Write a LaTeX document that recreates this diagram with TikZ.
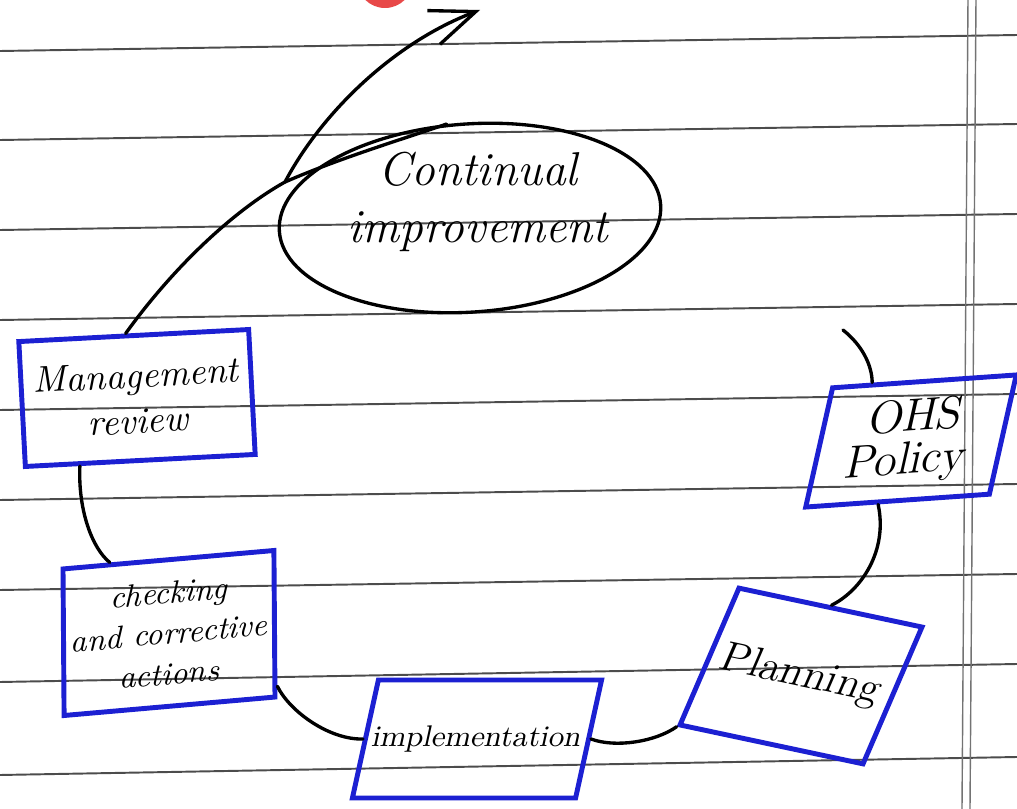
\documentclass[tikz,border=0pt]{standalone}
\usepackage{fontspec}
\usetikzlibrary{shapes.geometric,arrows.meta,calc}
\definecolor{penblue}{RGB}{28,32,210}
\definecolor{dotred}{RGB}{232,72,72}

\begin{document}
\begin{tikzpicture}[
    x=0.01cm, y=-0.01cm,
    ruled/.style={black!70, line width=0.55pt},
    margin/.style={black!55, line width=0.4pt},
    box/.style={draw=penblue, line width=1.4pt, align=center, inner sep=2pt},
    link/.style={line width=0.95pt, line cap=round}
]

% ruled paper
\useasboundingbox (0,0) rectangle (1017,809);
\clip (0,0) rectangle (1017,809);
\fill[white] (0,0) rectangle (1017,809);
\foreach \l/\r in {51/35, 140/124, 230/214, 320/304, 410/394, 500/484, 590/574, 682/664, 775/757}
  \draw[ruled] (0,\l) -- (1017,\r);
\draw[margin] (968,0) -- (962,809);
\draw[margin] (976,0) -- (970,809);
\fill[dotred] (385,-20) circle (28);

% steps of the cycle
\node[box, minimum width=2.3cm, minimum height=1.25cm, rotate=3,
      font=\fontsize{10.5}{13}\selectfont\itshape] (mr) at (137,398) {Management\\review};
\node[box, minimum width=1.84cm, minimum height=1.17cm, rotate=4, xslant=0.3,
      font=\fontsize{13}{12}\selectfont] (ohs) at (911,441) {OHS\\Policy};
\node[box, minimum width=1.87cm, minimum height=1.46cm, rotate=-12, xslant=0.2,
      font=\fontsize{12}{14}\selectfont] (pl) at (801,676) {Planning};
\node[box, minimum width=2.1cm, minimum height=1.18cm, xslant=0.22,
      font=\fontsize{8.5}{10}\selectfont] (im) at (477,739) {implementation};
\node[box, minimum width=2.08cm, minimum height=1.46cm, rotate=5, xslant=0.08,
      font=\fontsize{9}{11.5}\selectfont\itshape] (ck) at (169,633) {checking\\and corrective\\actions};

% centre
\node[draw, ellipse, line width=0.95pt, minimum width=3.82cm, minimum height=1.88cm, rotate=4] (ci) at (470,218) {};
\node[font=\fontsize{13.5}{16}\selectfont\itshape, align=center] (citext) at (478,202) {Continual\\improvement};

% connectors
\coordinate (loopstart) at (843,330);
\coordinate (split) at (285,182);
\coordinate (tip) at (480,10);

\draw[link] (loopstart) .. controls (862,345) and (872,365) .. ($(ohs.north west)!0.22!(ohs.north east)$);
\draw[link] ($(ohs.south west)!0.4!(ohs.south east)$) .. controls (888,550) and (862,590) .. (pl.north);
\draw[link] (pl.south west) .. controls (655,742) and (615,748) .. (im.east);
\draw[link] (im.west) .. controls (330,740) and (290,712) .. (ck.-30);
\draw[link] (ck.128) .. controls (92,548) and (78,510) .. (mr.227);
\draw[link] (mr.97) .. controls (175,265) and (235,210) .. (split);
\draw[link, -{Straight Barb[length=4.5mm, width=3.6mm]}] (split) .. controls (322,112) and (395,42) .. (tip);
\draw[link] (split) .. controls (340,158) and (400,140) .. (ci.100);

\end{tikzpicture}
\end{document}
